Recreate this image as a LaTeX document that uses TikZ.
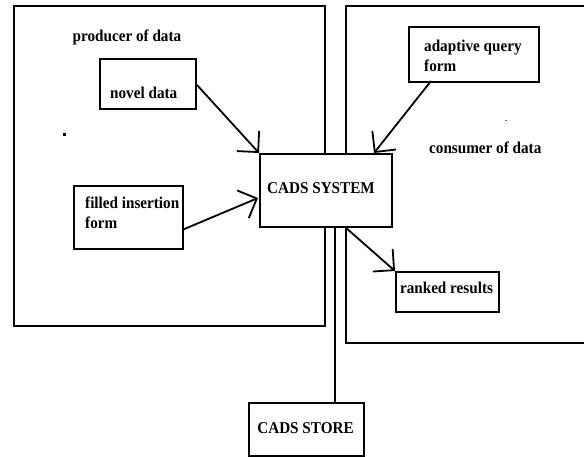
\documentclass[tikz,border=0pt]{standalone}
\usepackage{fontspec}
\setmainfont[FakeStretch=0.92]{Liberation Serif}
\usetikzlibrary{arrows.meta}
\tikzset{
  box/.style={draw=black, line width=1.8pt, fill=white, inner sep=0pt, anchor=north west},
  lbl/.style={font=\fontsize{16.5}{19.5}\selectfont\bfseries, inner sep=0pt, align=left},
  link/.style={draw=black, line width=1.8pt},
  arr/.style={link, -{Straight Barb[length=15pt,width=30pt,line width=1.8pt]}},
}
\begin{document}
\begin{tikzpicture}[x=1pt,y=-1pt]
\useasboundingbox[fill=white] (0,0) rectangle (584,457);
% region boxes
\draw[link] (14,6) rectangle (325,326);
\draw[link] (600,6) -- (346,6) -- (346,343) -- (600,343);
% connector to store (behind the system box)
\coordinate (sysbot) at (335,226);
% system box
\node[box, minimum width=132pt, minimum height=73pt] (sys) at (259,153) {};
\node[lbl] (systxt) at (321,188) {CADS SYSTEM};
% inner boxes
\node[box, minimum width=96pt, minimum height=50pt] (novel) at (99,58) {};
\node[lbl, anchor=west] (noveltxt) at (110,93) {novel data};
\node[box, minimum width=109pt, minimum height=63pt] (filled) at (73,185) {};
\node[lbl, anchor=north west] (filledtxt) at (85,197) {filled insertion\\form};
\node[box, minimum width=130pt, minimum height=55pt] (adapt) at (408,26) {};
\node[lbl, anchor=north west] (adapttxt) at (424,40) {adaptive query\\form};
\node[box, minimum width=103pt, minimum height=40pt] (ranked) at (395,271) {};
\node[lbl] (rankedtxt) at (446.5,288) {ranked results};
\node[box, minimum width=115pt, minimum height=53pt] (store) at (248,402) {};
\node[lbl] (storetxt) at (305.5,428) {CADS STORE};
% titles
\node[lbl, anchor=west] (prod) at (72.5,37) {producer of data};
\node[lbl, anchor=west] (cons) at (429,148) {consumer of data};
% dots
\fill (63.3,133.5) rectangle (65.5,136.5);
\fill[black!60] (504.5,120) rectangle (507,121.5);
% connectors
\coordinate (novelout) at (197,85);
\coordinate (adaptout) at (431,81);
\coordinate (filledout) at (182,230);
\coordinate (sysin2) at (258,198);
\coordinate (sysin3) at (374,153);
\coordinate (sysout) at (345,227);
\draw[arr] (novelout) -- (sys.north west);
\draw[arr] (filledout) -- (sysin2);
\draw[arr] (adaptout) -- (sysin3);
\draw[arr] (sysout) -- (ranked.north west);
\draw[link] (sysbot) -- (store.north -| sysbot);
\end{tikzpicture}
\end{document}
